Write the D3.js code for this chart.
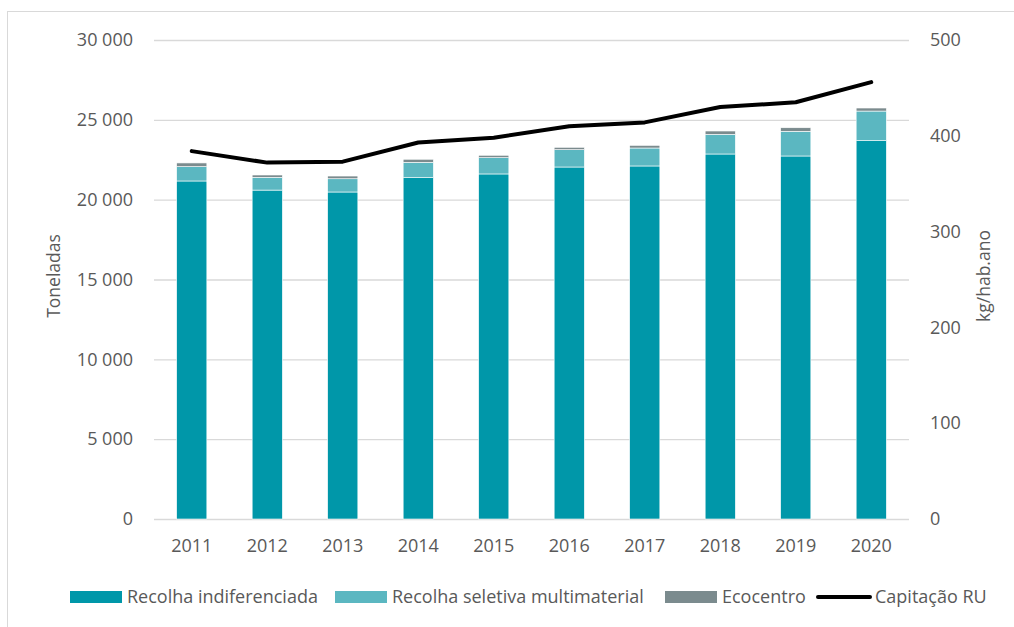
<!DOCTYPE html>
<html>
<head>
<meta charset="utf-8">
<script src="https://cdn.jsdelivr.net/npm/d3@7"></script>
<style>
  body { margin: 0; background: #fff; }
  text { font-family: 'Open Sans', sans-serif; fill: #595959; }
</style>
</head>
<body>
<div id="chart"></div>
<script>
// data
const years = ['2011', '2012', '2013', '2014', '2015', '2016', '2017', '2018', '2019', '2020']
const indiferenciada = [21170, 20600, 20480, 21380, 21610, 22045, 22110, 22860, 22735, 23695]
const seletiva = [900, 800, 830, 960, 1020, 1085, 1125, 1230, 1545, 1855]
const ecocentro = [230, 145, 170, 190, 150, 150, 165, 210, 225, 190]
const capitacao = [384, 372, 373, 393, 398, 410, 414, 430, 435, 456]
const leftTicks = [0, 5000, 10000, 15000, 20000, 25000, 30000]
const rightTicks = [0, 100, 200, 300, 400, 500]

const seriesNames = ['Recolha indiferenciada', 'Recolha seletiva multimaterial', 'Ecocentro']
const colors = ['#0097a9', '#5bb7c1', '#7b8b8e']

const width = 1014
const height = 627
const plot = { left: 154, right: 909, top: 40, bottom: 519 }
const fontSize = 18

const svg = d3
  .select('#chart')
  .append('svg')
  .attr('width', width)
  .attr('height', height)

// chart frame
svg
  .append('rect')
  .attr('x', 7.5)
  .attr('y', 11.5)
  .attr('width', width + 10)
  .attr('height', height + 10)
  .attr('fill', 'none')
  .attr('stroke', '#d9d9d9')

const x = d3
  .scaleBand()
  .domain(years)
  .range([plot.left, plot.right])
  .paddingInner(0.6)
  .paddingOuter(0.3)

const yLeft = d3
  .scaleLinear()
  .domain([0, 30000])
  .range([plot.bottom, plot.top])

const yRight = d3
  .scaleLinear()
  .domain([0, 500])
  .range([plot.bottom, plot.top])

const fmt = d => d3.format(',')(d).replace(/,/g, ' ')

// left axis with gridlines
const leftAxis = d3
  .axisLeft(yLeft)
  .tickValues(leftTicks)
  .tickSize(-(plot.right - plot.left))
  .tickPadding(21)
  .tickFormat(fmt)

svg
  .append('g')
  .attr('class', 'axis y-left')
  .attr('transform', 'translate(' + plot.left + ',0)')
  .call(leftAxis)
  .call(g => g.select('.domain').remove())
  .call(g => g.selectAll('line').attr('stroke', '#d9d9d9').attr('stroke-width', 1.3))
  .call(g => g.selectAll('text').attr('font-size', fontSize).attr('fill', '#595959'))

const rightAxis = d3
  .axisRight(yRight)
  .tickValues(rightTicks)
  .tickSize(0)
  .tickPadding(21)

svg
  .append('g')
  .attr('class', 'axis y-right')
  .attr('transform', 'translate(' + plot.right + ',0)')
  .call(rightAxis)
  .call(g => g.select('.domain').remove())
  .call(g => g.selectAll('text').attr('font-size', fontSize).attr('fill', '#595959'))

const xAxis = d3.axisBottom(x).tickSize(0).tickPadding(20)

svg
  .append('g')
  .attr('class', 'axis x-axis')
  .attr('transform', 'translate(0,' + plot.bottom + ')')
  .call(xAxis)
  .call(g => g.select('.domain').remove())
  .call(g => g.selectAll('text').attr('font-size', fontSize).attr('fill', '#595959'))

// stacked bars
const table = years.map((year, i) => ({
  year: year,
  a: indiferenciada[i],
  b: seletiva[i],
  c: ecocentro[i]
}))
const stack = d3.stack().keys(['a', 'b', 'c'])(table)

svg
  .append('g')
  .selectAll('g')
  .data(stack)
  .enter()
  .append('g')
  .attr('fill', (d, i) => colors[i])
  .selectAll('rect')
  .data(d => d)
  .enter()
  .append('rect')
  .attr('x', d => x(d.data.year))
  .attr('width', x.bandwidth())
  .attr('y', d => yLeft(d[1]))
  .attr('height', d => yLeft(d[0]) - yLeft(d[1]))
  .attr('stroke', '#ffffff')
  .attr('stroke-width', 0.6)

// capitação line
const line = d3
  .line()
  .x((d, i) => x(years[i]) + x.bandwidth() / 2)
  .y(d => yRight(d))

svg
  .append('path')
  .datum(capitacao)
  .attr('d', line)
  .attr('fill', 'none')
  .attr('stroke', '#000000')
  .attr('stroke-width', 4)
  .attr('stroke-linecap', 'round')
  .attr('stroke-linejoin', 'round')

// axis titles
svg
  .append('text')
  .text('Toneladas')
  .attr('font-size', 17.5)
  .attr('text-anchor', 'middle')
  .attr('transform', 'translate(60,276) rotate(-90)')

svg
  .append('text')
  .text('kg/hab.ano')
  .attr('font-size', 17.5)
  .attr('text-anchor', 'middle')
  .attr('transform', 'translate(990,276) rotate(-90)')

// legend
const legend = svg.append('g').attr('class', 'legend')
const legendX = [70, 335, 665]
seriesNames.forEach((name, i) => {
  legend
    .append('rect')
    .attr('x', legendX[i])
    .attr('y', 591)
    .attr('width', 52)
    .attr('height', 12)
    .attr('fill', colors[i])
  legend
    .append('text')
    .text(name)
    .attr('x', legendX[i] + 57)
    .attr('y', 603)
    .attr('font-size', fontSize)
})
legend
  .append('line')
  .attr('x1', 818)
  .attr('x2', 870)
  .attr('y1', 597)
  .attr('y2', 597)
  .attr('stroke', '#000')
  .attr('stroke-width', 4)
  .attr('stroke-linecap', 'round')
legend
  .append('text')
  .text('Capitação RU')
  .attr('x', 875)
  .attr('y', 603)
  .attr('font-size', fontSize)
</script>
</body>
</html>
